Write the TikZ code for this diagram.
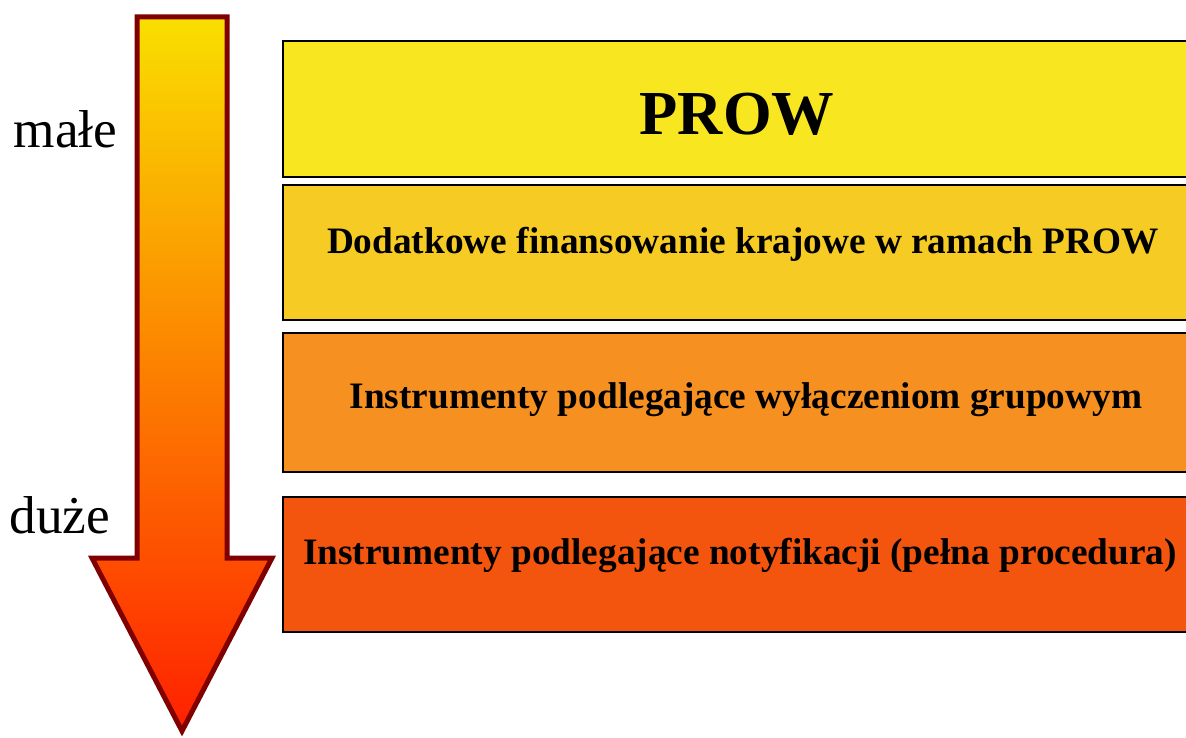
\documentclass[tikz,border=0pt]{standalone}
\usepackage{fontspec}
\setmainfont{Liberation Serif}
\definecolor{boxA}{HTML}{F8E720}
\definecolor{boxB}{HTML}{F6CB23}
\definecolor{boxC}{HTML}{F69020}
\definecolor{boxD}{HTML}{F4550E}
\definecolor{arrTop}{HTML}{F9DF00}
\definecolor{arrMid}{HTML}{FBA600}
\definecolor{arrBot}{HTML}{FF2000}
\definecolor{arrEdge}{HTML}{800000}
\tikzset{
  boxedge/.style={draw=black, line width=1.6pt},
  boxtext/.style={anchor=base, font=\fontsize{37.3}{37.3}\selectfont\bfseries, inner sep=0pt},
  sidetext/.style={anchor=base, font=\fontsize{53.3}{53.3}\selectfont, inner sep=0pt},
}
\begin{document}
\begin{tikzpicture}[x=1pt,y=-1pt]
\useasboundingbox (0,0) rectangle (1186,738);
% arrow
\path[top color=arrTop, middle color=arrMid, bottom color=arrBot, shading=axis]
  (137,17) -- (227,17) -- (227,558) -- (272,558) -- (182,731) -- (92,558) -- (137,558) -- cycle;
\draw[arrEdge, line width=5pt, line join=miter]
  (137,17) -- (227,17) -- (227,558) -- (272,558) -- (182,731) -- (92,558) -- (137,558) -- cycle;
% boxes
\foreach \t/\b/\c/\n in {41/177/boxA/bA, 185/320/boxB/bB, 333/472/boxC/bC, 497/632/boxD/bD}{
  \fill[\c] (283,\t) rectangle (1190,\b);
  \draw[boxedge] (1190,\t) -- (283,\t) -- (283,\b) -- (1190,\b);
  \coordinate (\n) at (283,\t);
}
\node[anchor=base, font=\fontsize{62.6}{62.6}\selectfont\bfseries, inner sep=0pt] (t1) at (737,135) {PROW};
\node[boxtext] (t2) at (743,253) {Dodatkowe finansowanie krajowe w ramach PROW};
\node[boxtext] (t3) at (746,408) {Instrumenty podlegające wyłączeniom grupowym};
\node[boxtext] (t4) at (740,564) {Instrumenty podlegające notyfikacji (pełna procedura)};
\node[sidetext] (small) at (65.5,148) {małe};
\node[sidetext] (large) at (60,533) {duże};
\end{tikzpicture}
\end{document}
